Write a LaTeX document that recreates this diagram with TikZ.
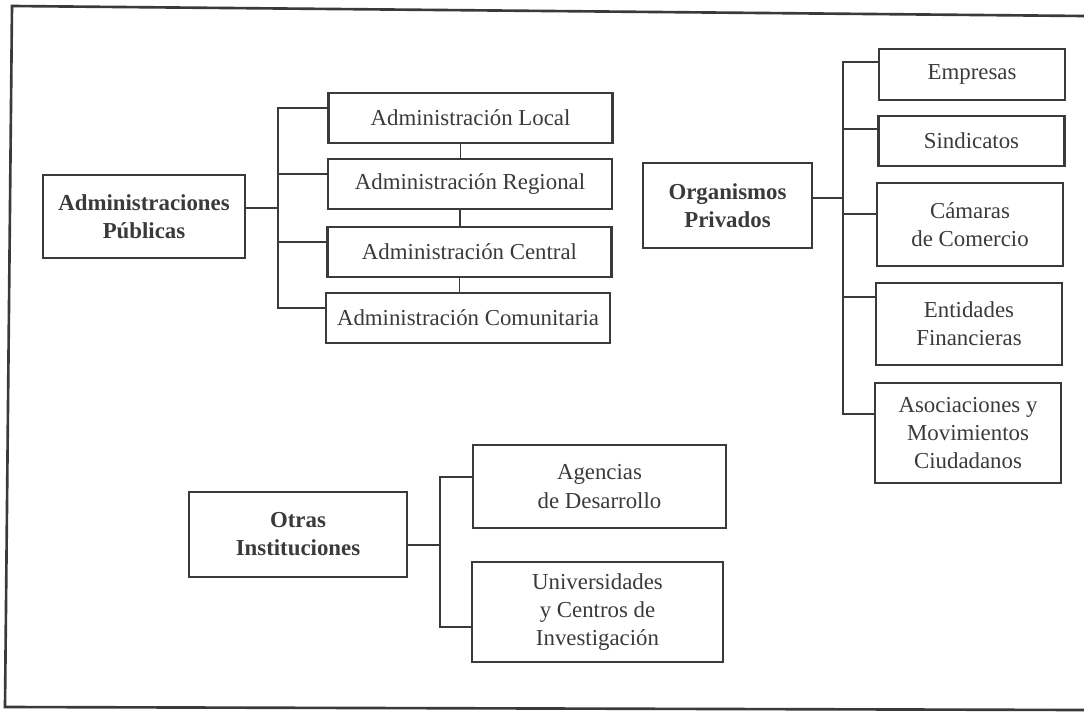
\documentclass[tikz,border=0pt]{standalone}
\usepackage{fontspec}
\setmainfont{Liberation Serif}
\usepackage{tikz}
\usetikzlibrary{positioning,calc}
\definecolor{ink}{RGB}{58,58,58}

\begin{document}
\begin{tikzpicture}[x=0.02cm,y=-0.02cm,
    box/.style={draw=ink,line width=1.3pt,align=center,inner sep=2pt,text=ink,
        font=\fontsize{13}{16}\selectfont},
    head/.style={box,font=\fontsize{13}{16}\selectfont\bfseries},
    link/.style={draw=ink,line width=1.1pt}]
            \useasboundingbox (0,0) rectangle (1084,713);
            \draw[ink,line width=1.5pt] (1084,16) -- (12,6) -- (5,707) -- (1084,710);

            \node[head,minimum width=4.04cm,minimum height=1.66cm] (pub) at (144,216.5) {Administraciones\\Públicas};
            \node[box,minimum width=5.68cm,minimum height=1cm] (local)    at (470.5,118) {Administración Local};
            \node[box,minimum width=5.68cm,minimum height=1cm] (regional) at (470,184)   {Administración Regional};
            \node[box,minimum width=5.68cm,minimum height=1cm] (central)  at (469.5,252) {Administración Central};
            \node[box,minimum width=5.68cm,minimum height=1cm] (comun)    at (468,318)   {Administración Comunitaria};

            \node[head,minimum width=3.38cm,minimum height=1.7cm] (org) at (727.5,205.5) {Organismos\\Privados};
            \node[box,minimum width=3.72cm,minimum height=1.02cm] (emp)  at (972,74.5)  {Empresas};
            \node[box,minimum width=3.72cm,minimum height=1cm]    (sind) at (971.5,141) {Sindicatos};
            \node[box,minimum width=3.72cm,minimum height=1.66cm] (cam)  at (970,224.5) {Cámaras\\de Comercio};
            \node[box,minimum width=3.72cm,minimum height=1.64cm] (ent)  at (969,324)   {Entidades\\Financieras};
            \node[box,minimum width=3.72cm,minimum height=2cm]    (asoc) at (968,433)   {Asociaciones y\\Movimientos\\Ciudadanos};

            \node[head,minimum width=4.36cm,minimum height=1.7cm] (otras) at (298,534.5) {Otras\\Instituciones};
            \node[box,minimum width=5.06cm,minimum height=1.66cm] (agen) at (599.5,486.5) {Agencias\\de Desarrollo};
            \node[box,minimum width=5.02cm,minimum height=2cm]    (univ) at (597.5,612)   {Universidades\\y Centros de\\Investigación};

            \coordinate (pubbus)   at (278,208);
            \coordinate (orgbus)   at (843,198);
            \coordinate (otrasbus) at (440,545);

            \begin{scope}[link]
                \draw (pub.east |- pubbus) -- (pubbus);
                \foreach \n in {local,regional,central,comun}
                    \draw ([yshift=-3.2mm]\n.north west) -| (pubbus);
                \foreach \a/\b in {local/regional,regional/central,central/comun}
                    \draw ([xshift=-2mm]\a.south) -- ([xshift=-2mm]\a.south |- \b.north);

                \draw (org.east |- orgbus) -- (orgbus);
                \foreach \n/\d in {emp/2.8mm,sind/2.8mm,cam/6.4mm,ent/3mm,asoc/6.4mm}
                    \draw ([yshift=-\d]\n.north west) -| (orgbus);

                \draw (otras.east |- otrasbus) -- (otrasbus);
                \foreach \n/\d in {agen/6.6mm,univ/13.2mm}
                    \draw ([yshift=-\d]\n.north west) -| (otrasbus);
            \end{scope}
        \end{tikzpicture}
\end{document}
